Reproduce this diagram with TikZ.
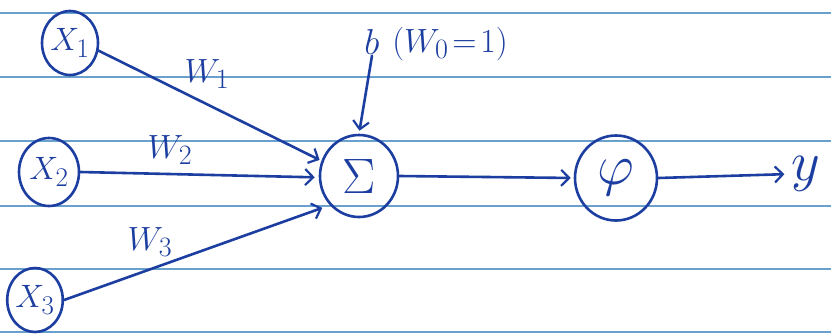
\documentclass[tikz,border=0pt]{standalone}
\usepackage{graphicx}
\usetikzlibrary{shapes.geometric,arrows.meta,calc}
\definecolor{ink}{RGB}{28,62,160}
\definecolor{paperrule}{RGB}{105,160,205}
\newcommand\inkbig[2]{\scalebox{#1}{\Huge #2}}
\begin{document}
\begin{tikzpicture}[x=1pt,y=-1pt,
  neuron/.style={ellipse,draw=ink,line width=2.6pt,text=ink,inner sep=0pt},
  lab/.style={text=ink,inner sep=1pt},
  conn/.style={draw=ink,line width=2.6pt,line cap=round,-{Straight Barb[length=8pt,width=16pt,line width=2.2pt]}},
  rulestyle/.style={draw=paperrule,line width=1.6pt}]
\useasboundingbox (0,0) rectangle (831,335);
\fill[white] (0,0) rectangle (831,335);
\foreach \yy in {13,77,141,206,269,332} \draw[rulestyle] (0,\yy) -- (831,\yy);
% nodes
\node[neuron,minimum width=56pt,minimum height=64pt] (x1) at (70,43) {\inkbig{1.3}{$X_{1}$}};
\node[neuron,minimum width=60pt,minimum height=68pt] (x2) at (49,172) {\inkbig{1.3}{$X_{2}$}};
\node[neuron,minimum width=54pt,minimum height=64pt] (x3) at (35,300) {\inkbig{1.3}{$X_{3}$}};
\node[neuron,minimum width=78pt,minimum height=82pt] (sig) at (359,176) {\inkbig{2.0}{$\Sigma$}};
\node[neuron,minimum width=82pt,minimum height=85pt] (phi) at (616,178) {\inkbig{2.3}{$\varphi$}};
\node[lab] (y) at (806,174) {\inkbig{2.25}{$y$}};
\node[lab] (b) at (372,42) {\inkbig{1.45}{$b$}};
\node[lab] (w0) at (450,44) {\inkbig{1.35}{$(W_{0}\!=\!1)$}};
\node[lab] (w1) at (207,74) {\inkbig{1.35}{$W_{1}$}};
\node[lab] (w2) at (170,150) {\inkbig{1.35}{$W_{2}$}};
\node[lab] (w3) at (150,242) {\inkbig{1.35}{$W_{3}$}};
% connectors
\draw[conn,shorten >=2pt] (x1.-15) -- (sig.158);
\draw[conn,shorten >=4pt] (x2.east) -- (sig.182);
\draw[conn,shorten >=8pt] (x3.east) -- (sig.225);
\draw[conn,shorten >=3pt] (b.south) -- (sig.north);
\draw[conn,shorten >=3pt] (sig.east) -- (phi.west);
\draw[conn,shorten >=6pt] (phi.east) -- (y.west);
\end{tikzpicture}
\end{document}
